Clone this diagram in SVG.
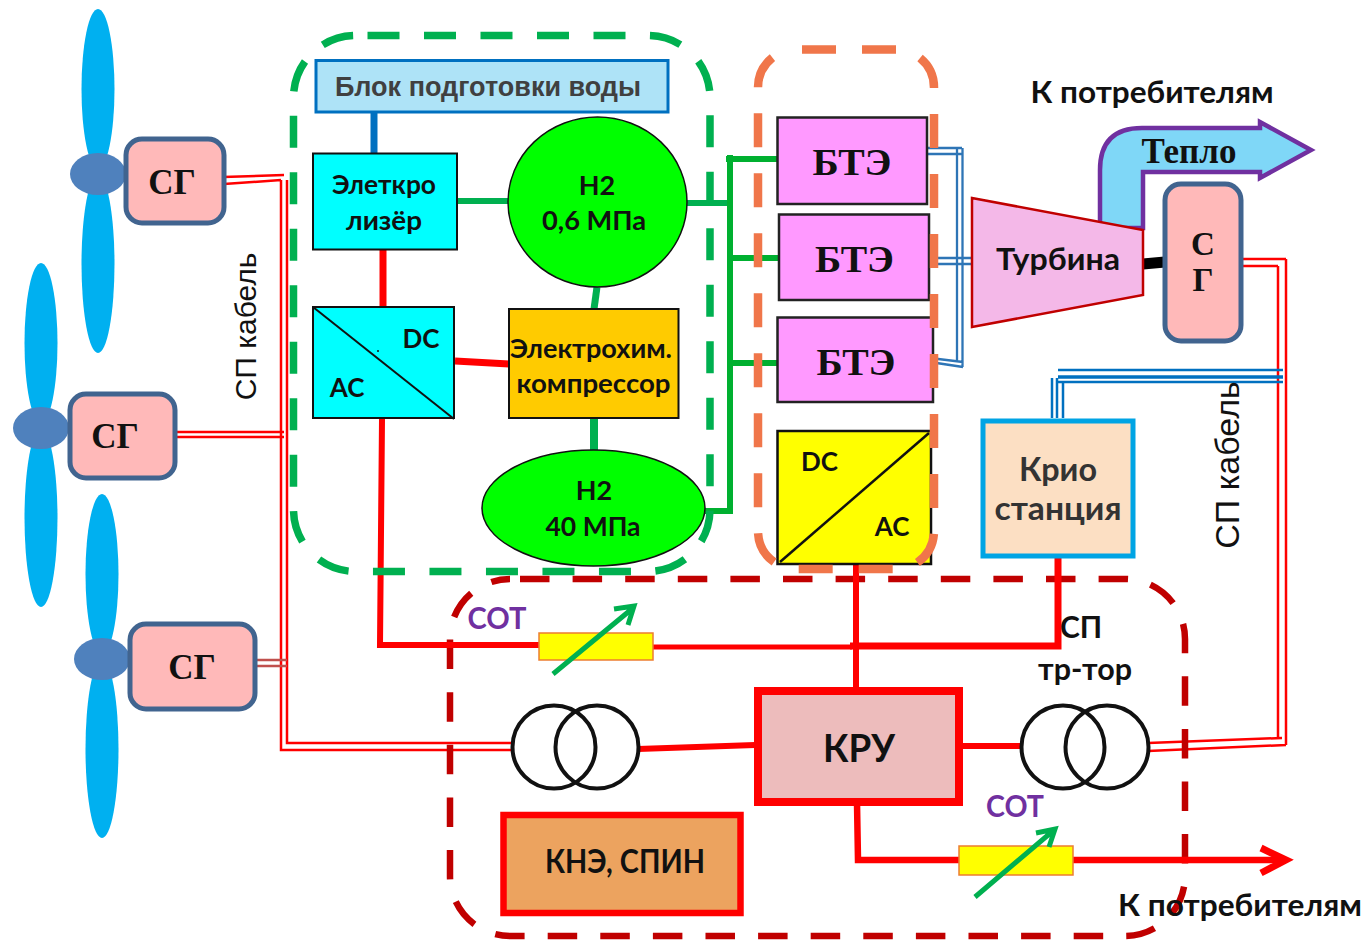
<svg xmlns="http://www.w3.org/2000/svg" width="1367" height="941" viewBox="0 0 1367 941">
<style>
text{font-family:Lato,"Open Sans","Liberation Sans",sans-serif;font-weight:700;fill:#111;text-anchor:middle}
.s{font-family:"Liberation Serif",serif;font-weight:700}
.blade{fill:#00b0f0}
.hub{fill:#4f81bd}
.sg{fill:#ffb9b9;stroke:#41648f;stroke-width:5}
.r{fill:none;stroke:#f00}
.r2{fill:none;stroke:#f00;stroke-width:2.5}
.b2{fill:none;stroke:#0070c0;stroke-width:2.5}
.g{fill:none;stroke:#00b050;stroke-width:6}
.bte{fill:#ff99ff;stroke:#222;stroke-width:2.5}
.tr{fill:none;stroke:#111;stroke-width:4}
.sot{fill:#ff0;stroke:#ed7d31;stroke-width:1.5}
.ga{fill:none;stroke:#00b050;stroke-width:5}
.p{fill:#7030a0;font-size:31px}
.l{font-family:"Liberation Sans",sans-serif;font-weight:400}
</style>
<defs>
<g id="wind">
<ellipse class="blade" cx="0" cy="-85" rx="16.5" ry="80"/>
<ellipse class="blade" cx="0" cy="90" rx="16.5" ry="89"/>
<ellipse class="hub" cx="0" cy="0" rx="28" ry="21"/>
</g>
</defs>

<g id="cables">
<path class="r2" d="M223 177 284 175M224 184 281 180M281 180V750H512M287 180V743H512"/>
<path class="r2" d="M176 432H284M176 437H284"/>
<path class="r2" d="M248 660H287M248 666H287" style="stroke:#c0504d"/>
<path class="r2" d="M1242 259H1286M1242 266H1278M1278 266V738M1286 259V745M1148 743 1282 738M1148 751 1286 745"/>
</g>
<rect id="group-storage" x="450" y="579" width="735" height="357" rx="60" fill="none" stroke="#c00000" stroke-width="6.5" stroke-dasharray="29.5 23.1" stroke-dashoffset="42.6"/>
<g id="connectors">
<path class="r" stroke-width="7" d="M383 250V306"/>
<path class="r" stroke-width="6" d="M382 419 380 645H540"/>
<path class="r" stroke-width="5" d="M653 647H852"/>
<path class="r" stroke-width="7" d="M455 361 509 364"/>
<path class="r" stroke-width="6" d="M856 565V690"/>
<path class="r" stroke-width="7" d="M850 646H1058V557"/>
<path class="r" stroke-width="6" d="M638 749 755 745"/>
<path class="r" stroke-width="6" d="M960 746H1020"/>
<path class="r" stroke-width="6.5" d="M857 803 858 860H960M1073 860H1285"/>
<path class="r" stroke-width="7" d="M1261 848 1286 860 1261 873"/>
<path d="M374 112V153" fill="none" stroke="#0070c0" stroke-width="7"/>
<path class="g" d="M457 201H509"/>
<path class="g" d="M597 287 594 309" style="stroke-width:7"/>
<path class="g" d="M594 418V450" style="stroke-width:8"/>
<path class="g" d="M685 203H733"/>
<path class="g" d="M730 155V511H705M726 159H778M730 258H780M727 363H778" style="stroke:#00b030"/>
<path d="M923 148H962M923 154H962M957 148V362M962.5 148V367M922 258H976M922 264H976M930 358 963 362M930 362 963 367" fill="none" stroke="#2e75b6" stroke-width="2.3"/>
<path class="b2" d="M1058 370H1283M1058 382H1283M1052 418V378M1057 418V378M1063 418V382" />
<path d="M1058 377H1283" fill="none" stroke="#0070c0" stroke-width="3.5"/>
<path d="M1143 264 1165 262" stroke="#000" stroke-width="11" fill="none"/>
</g>

<g id="wind1"><use href="#wind" x="98" y="174"/></g>
<g id="wind2"><use href="#wind" x="41" y="428"/></g>
<g id="wind3"><use href="#wind" x="102" y="659"/></g>

<g id="sg1"><rect class="sg" x="126" y="139" width="98" height="84" rx="16"/><text class="s" x="172" y="194" font-size="35">СГ</text></g>
<g id="sg2"><rect class="sg" x="70" y="394" width="105" height="84" rx="16"/><text class="s" x="115" y="448" font-size="35">СГ</text></g>
<g id="sg3"><rect class="sg" x="130" y="624" width="125" height="85" rx="16"/><text class="s" x="192" y="679" font-size="35">СГ</text></g>
<text class="l" transform="translate(256 326.5) rotate(-90)" font-size="30">СП кабель</text>

<g id="water"><rect x="316" y="60.5" width="352" height="51.5" fill="#aee3f7" stroke="#0070c0" stroke-width="3"/><text x="488" y="96" font-size="27" style="fill:#404040;font-family:'Liberation Sans',sans-serif">Блок подготовки воды</text></g>
<g id="electrolyzer"><rect x="313" y="153.500" width="144" height="96" fill="#00ffff" stroke="#111" stroke-width="2"/><text x="384" y="194" font-size="27" textLength="104" lengthAdjust="spacingAndGlyphs">Элеткро</text><text x="384" y="230" font-size="27" textLength="76" lengthAdjust="spacingAndGlyphs">лизёр</text></g>
<g id="h2low"><ellipse cx="597.500" cy="202" rx="89.5" ry="85" fill="#00ff00" stroke="#111" stroke-width="1.5"/><text x="597" y="195" font-size="27">Н2</text><text x="594" y="230" font-size="27" textLength="104" lengthAdjust="spacingAndGlyphs">0,6 МПа</text></g>
<g id="acdc"><rect x="313" y="307" width="141" height="111" fill="#00ffff" stroke="#111" stroke-width="2"/><path d="M313 307 454 419" stroke="#111" stroke-width="2"/><circle cx="378" cy="351" r="1" fill="#111"/><text x="421" y="348" font-size="26">DC</text><text x="347" y="397" font-size="26">AC</text></g>
<g id="compressor"><rect x="509" y="309" width="169.500" height="109" fill="#ffcb00" stroke="#111" stroke-width="2"/><text x="591" y="358" font-size="27" textLength="162" lengthAdjust="spacingAndGlyphs">Электрохим.</text><text x="593.5" y="393" font-size="27" textLength="154" lengthAdjust="spacingAndGlyphs">компрессор</text></g>
<g id="h2high"><ellipse cx="593.500" cy="508" rx="111.5" ry="58" fill="#00ff00" stroke="#111" stroke-width="1.5"/><text x="594" y="500" font-size="27">Н2</text><text x="593" y="536" font-size="27" textLength="95" lengthAdjust="spacingAndGlyphs">40 МПа</text></g>

<g id="bte1"><rect class="bte" x="777.500" y="117.500" width="149.500" height="86.500"/><text class="s" x="852" y="175" font-size="37" textLength="79" lengthAdjust="spacingAndGlyphs">БТЭ</text></g>
<g id="bte2"><rect class="bte" x="779" y="214.500" width="150" height="85.500"/><text class="s" x="854.5" y="272" font-size="37" textLength="79" lengthAdjust="spacingAndGlyphs">БТЭ</text></g>
<g id="bte3"><rect class="bte" x="777.500" y="317.500" width="155.500" height="84.500"/><text class="s" x="856" y="375" font-size="37" textLength="79" lengthAdjust="spacingAndGlyphs">БТЭ</text></g>
<g id="dcac"><rect x="777.500" y="431" width="153.500" height="133" fill="#ff0" stroke="#111" stroke-width="2.5"/><path d="M780 562 929 433" stroke="#111" stroke-width="2.5"/><text x="819.500" y="471" font-size="26">DC</text><text x="892" y="536" font-size="26">AC</text></g>

<g id="heat"><path d="M1100 228V170Q1100 128 1142 128H1260V122L1311 150 1260 178V172H1143V228Z" fill="#7fd7f7" stroke="#7030a0" stroke-width="4.5"/><text class="s" x="1189" y="163" font-size="35">Тепло</text></g>
<g id="turbine"><path d="M972 198 1143 230V295L972 327Z" fill="#f4b8e8" stroke="#c00000" stroke-width="2.5"/><text x="1058" y="270" font-size="30" textLength="124" lengthAdjust="spacingAndGlyphs">Турбина</text></g>
<g id="sg4"><rect class="sg" x="1165" y="184" width="76" height="157" rx="16"/><text class="s" x="1203" y="255" font-size="33">С</text><text class="s" x="1203" y="291" font-size="33">Г</text></g>
<text x="1152" y="103" font-size="30" textLength="243" lengthAdjust="spacingAndGlyphs">К потребителям</text>
<text class="l" transform="translate(1239 465) rotate(-90)" font-size="34">СП кабель</text>
<g id="cryo"><rect x="983" y="421" width="150" height="135" fill="#fcdfc3" stroke="#00a4e4" stroke-width="5"/><text x="1058" y="481" font-size="33" style="fill:#333" textLength="78" lengthAdjust="spacingAndGlyphs">Крио</text><text x="1058" y="520" font-size="33" style="fill:#333" textLength="127" lengthAdjust="spacingAndGlyphs">станция</text></g>

<g id="kru"><rect x="758" y="691" width="201" height="111" fill="#edbcbc" stroke="#f00" stroke-width="8"/><text x="859" y="762" font-size="38" textLength="72" lengthAdjust="spacingAndGlyphs">КРУ</text></g>
<g id="store"><rect x="503.500" y="815" width="237" height="98" fill="#eca35f" stroke="#f00" stroke-width="6.5"/><text x="625" y="873" font-size="32" textLength="160" lengthAdjust="spacingAndGlyphs">КНЭ, СПИН</text></g>

<g id="tr1"><circle class="tr" cx="554" cy="747" r="41.500"/><circle class="tr" cx="597" cy="747" r="41.500"/></g>
<g id="tr2"><circle class="tr" cx="1063" cy="747" r="41.500"/><circle class="tr" cx="1107" cy="747" r="41.500"/></g>

<g id="sot1"><rect class="sot" x="539" y="633" width="114" height="27"/><path class="ga" d="M553 674 633 608M614 609 634 606 628 625"/></g>
<g id="sot2"><rect class="sot" x="959" y="846" width="114" height="29"/><path class="ga" d="M975 897 1054 830M1036 833 1055 829 1049 847"/></g>
<text class="p" x="497" y="629" style="fill:#7030a0" textLength="59" lengthAdjust="spacingAndGlyphs">СОТ</text>
<text class="p" x="1015" y="817" style="fill:#7030a0" textLength="58" lengthAdjust="spacingAndGlyphs">СОТ</text>
<text x="1081" y="638" font-size="30">СП</text>
<text x="1085" y="680" font-size="30" textLength="94" lengthAdjust="spacingAndGlyphs">тр-тор</text>

<g id="groups" fill="none">
<rect x="293.500" y="35.500" width="416.500" height="536" rx="62" stroke="#00b050" stroke-width="7.5" stroke-dasharray="32 24.5" stroke-dashoffset="44.5"/>
<rect x="758" y="49.500" width="176" height="519.500" rx="38" stroke="#f0764a" stroke-width="8.500" stroke-dasharray="34 26" stroke-dashoffset="54"/>
</g>
<text x="1240" y="916" font-size="30" textLength="244" lengthAdjust="spacingAndGlyphs">К потребителям</text>
</svg>
